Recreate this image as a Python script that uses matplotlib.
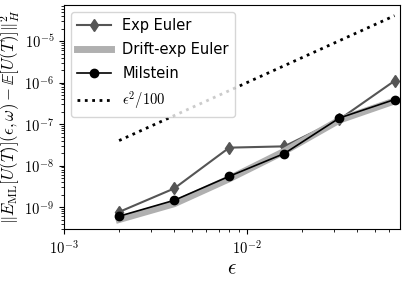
import matplotlib
matplotlib.use("Agg")
import matplotlib.pyplot as plt
from matplotlib.ticker import FuncFormatter, NullFormatter, FixedLocator, LogLocator
import numpy as np

eps = [0.002, 0.004, 0.008, 0.016, 0.032, 0.064]
exp_euler = [7.6e-10, 2.8e-9, 2.7e-8, 2.9e-8, 1.3e-7, 1.1e-6]
drift_exp = [5.0e-10, 1.2e-9, 4.8e-9, 2.2e-8, 1.25e-7, 3.6e-7]
milstein = [6.0e-10, 1.45e-9, 5.5e-9, 1.95e-8, 1.4e-7, 3.9e-7]
xticks = [1e-3, 1e-2]
yticks = [1e-9, 1e-8, 1e-7, 1e-6, 1e-5]

plt.rcParams['mathtext.fontset'] = 'cm'
plt.rcParams['font.family'] = ['DejaVu Sans']

fig = plt.figure(figsize=(4.07, 2.81), dpi=100)
ax = fig.add_axes([64/407, 1-229/281, 336/407, 224/281])

ax.plot(eps, exp_euler, color='#555555', marker='d', markersize=6, lw=1.5, label='Exp Euler')
ax.plot(eps, drift_exp, color='#b0b0b0', lw=5, label='Drift-exp Euler')
ax.plot(eps, milstein, color='black', marker='o', markersize=6, lw=1.2, label='Milstein')
ref = [e**2/100 for e in eps]
ax.plot(eps, ref, color='black', ls=':', lw=2, label=r'$\epsilon^2/100$')

ax.set_xscale('log')
ax.set_yscale('log')
ax.set_xlim(1e-3, 10**(-1.164))
ax.set_ylim(10**-9.53, 10**-4.13)
ax.xaxis.set_major_locator(FixedLocator(xticks))
ax.yaxis.set_major_locator(FixedLocator(yticks))
ax.xaxis.set_minor_locator(LogLocator(base=10, subs=np.arange(2, 10)))
ax.yaxis.set_minor_locator(LogLocator(base=10, subs=np.arange(2, 10)))
fmt = FuncFormatter(lambda v, p: r'$10^{%d}$' % round(np.log10(v)))
ax.xaxis.set_major_formatter(fmt)
ax.yaxis.set_major_formatter(fmt)
ax.xaxis.set_minor_formatter(NullFormatter())
ax.yaxis.set_minor_formatter(NullFormatter())
ax.set_xlabel(r'$\epsilon$', fontsize=15, labelpad=1)
ax.set_ylabel(r'$\|E_{\mathrm{ML}}[U(T)](\epsilon,\omega)-\mathbb{E}[U(T)]\|_H^2$', fontsize=12)
ax.yaxis.set_label_coords(-0.125, 0.50)
ax.tick_params(labelsize=10.5)
ax.legend(loc='upper left', fontsize=10.5, handlelength=2.3, labelspacing=0.6,
          borderaxespad=0.5)

fig.savefig('out.png', dpi=100)
